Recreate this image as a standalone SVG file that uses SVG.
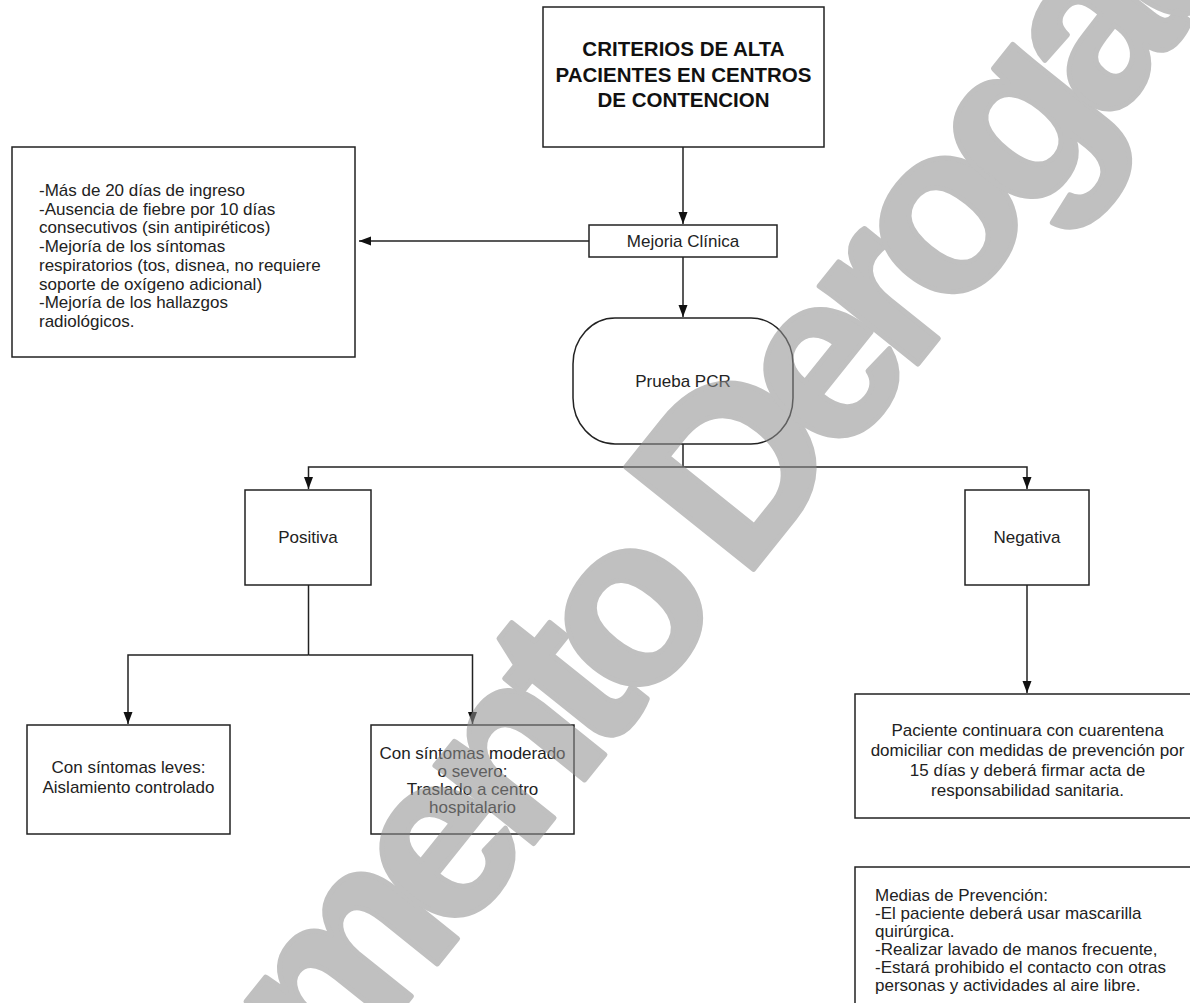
<svg xmlns="http://www.w3.org/2000/svg" width="1190" height="1003" viewBox="0 0 1190 1003">
<defs>
<marker id="ah" markerUnits="userSpaceOnUse" markerWidth="14" markerHeight="12" refX="12" refY="5" orient="auto">
<path d="M0,0.5 L12,5 L0,9.5 z" fill="#111"/>
</marker>
<style>
.box{fill:#fff;stroke:#222;stroke-width:1.5}
.t{font-family:"Liberation Sans",Arial,sans-serif;font-size:17px;fill:#222}
.c{text-anchor:middle}
.b{font-weight:bold;font-size:20.5px;fill:#111}
.ln{fill:none;stroke:#222;stroke-width:1.5}
.wm{font-family:"Liberation Sans",Arial,sans-serif;font-weight:bold;font-size:238px;letter-spacing:-21px;fill:#8f8f8f;stroke:#8f8f8f;stroke-width:5;stroke-linejoin:round}
</style>
</defs>
<rect width="1190" height="1003" fill="#fff"/>
<g id="connectors">
<path class="ln" d="M683,147 V224" marker-end="url(#ah)"/>
<path class="ln" d="M589,241 H359" marker-end="url(#ah)"/>
<path class="ln" d="M683,257 V317" marker-end="url(#ah)"/>
<path class="ln" d="M683,444 V467"/>
<path class="ln" d="M683,467 H308.5 V489" marker-end="url(#ah)"/>
<path class="ln" d="M683,467 H1027 V489" marker-end="url(#ah)"/>
<path class="ln" d="M308.5,585 V655"/>
<path class="ln" d="M308.5,655 H128 V724" marker-end="url(#ah)"/>
<path class="ln" d="M308.5,655 H472.5 V724" marker-end="url(#ah)"/>
<path class="ln" d="M1027,585 V693" marker-end="url(#ah)"/>
</g>
<g id="title">
<rect class="box" x="543" y="7" width="281" height="140"/>
<text class="t b c" x="683.5" y="56">CRITERIOS DE ALTA</text>
<text class="t b c" x="683.5" y="81.5">PACIENTES EN CENTROS</text>
<text class="t b c" x="683.5" y="107">DE CONTENCION</text>
</g>
<g id="criterios">
<rect class="box" x="12" y="147" width="343" height="210"/>
<text class="t" x="39" y="196">-Más de 20 días de ingreso</text>
<text class="t" x="39" y="214.7">-Ausencia de fiebre por 10 días</text>
<text class="t" x="39" y="233.4">consecutivos (sin antipiréticos)</text>
<text class="t" x="39" y="252.1">-Mejoría de los síntomas</text>
<text class="t" x="39" y="270.8">respiratorios (tos, disnea, no requiere</text>
<text class="t" x="39" y="289.5">soporte de oxígeno adicional)</text>
<text class="t" x="39" y="308.2">-Mejoría de los hallazgos</text>
<text class="t" x="39" y="326.9">radiológicos.</text>
</g>
<g id="mejoria">
<rect class="box" x="589" y="225" width="188" height="32"/>
<text class="t c" x="683" y="247">Mejoria Clínica</text>
</g>
<g id="pcr">
<rect class="box" x="573" y="318" width="220" height="126" rx="42" ry="46"/>
<text class="t c" x="683" y="387">Prueba PCR</text>
</g>
<g id="positiva">
<rect class="box" x="245" y="490" width="126" height="95"/>
<text class="t c" x="308" y="543">Positiva</text>
</g>
<g id="negativa">
<rect class="box" x="965" y="490" width="124" height="95"/>
<text class="t c" x="1027" y="543">Negativa</text>
</g>
<g id="leves">
<rect class="box" x="27" y="725" width="203" height="109"/>
<text class="t c" x="128.5" y="773">Con síntomas leves:</text>
<text class="t c" x="128.5" y="793">Aislamiento controlado</text>
</g>
<g id="moderado">
<rect class="box" x="371" y="725" width="203" height="109"/>
<text class="t c" x="472.5" y="759">Con síntomas moderado</text>
<text class="t c" x="472.5" y="777">o severo:</text>
<text class="t c" x="472.5" y="795">Traslado a centro</text>
<text class="t c" x="472.5" y="813">hospitalario</text>
</g>
<g id="cuarentena">
<rect class="box" x="855" y="694" width="345" height="124"/>
<text class="t c" x="1027.5" y="736">Paciente continuara con cuarentena</text>
<text class="t c" x="1027.5" y="756">domiciliar con medidas de prevención por</text>
<text class="t c" x="1027.5" y="776">15 días y deberá firmar acta de</text>
<text class="t c" x="1027.5" y="796">responsabilidad sanitaria.</text>
</g>
<g id="prevencion">
<rect class="box" x="855" y="867" width="345" height="150"/>
<text class="t" x="875" y="901">Medias de Prevención:</text>
<text class="t" x="875" y="919">-El paciente deberá usar mascarilla</text>
<text class="t" x="875" y="937">quirúrgica.</text>
<text class="t" x="875" y="955">-Realizar lavado de manos frecuente,</text>
<text class="t" x="875" y="973">-Estará prohibido el contacto con otras</text>
<text class="t" x="875" y="991">personas y actividades al aire libre.</text>
</g>
<g id="watermark" opacity="0.56">
<text class="wm" transform="translate(15,1491) rotate(-51.3)" x="0" y="0">Documento Derogado</text>
</g>
</svg>
